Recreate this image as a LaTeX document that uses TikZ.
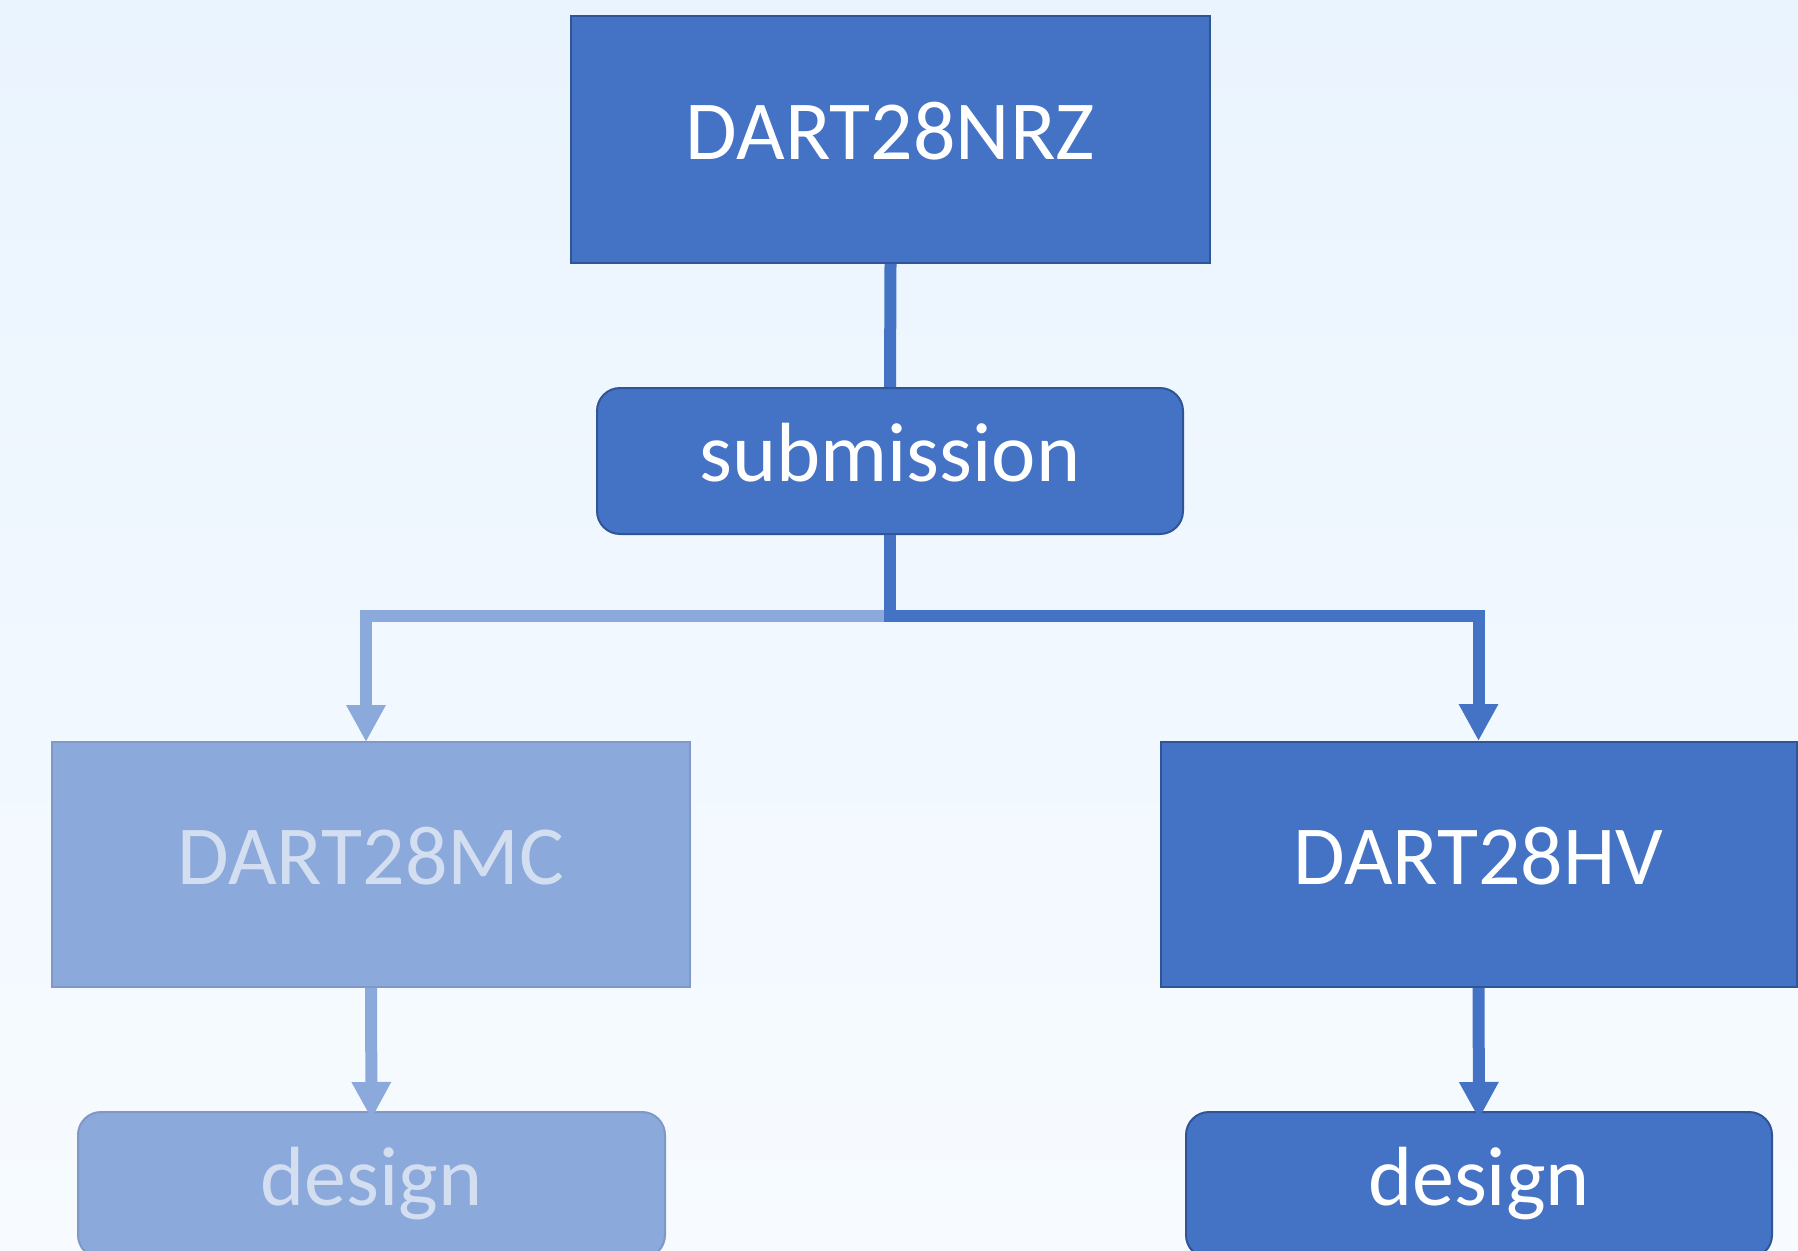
\documentclass[tikz,border=0pt]{standalone}
\usepackage{fontspec}
\setmainfont{Carlito}
\usetikzlibrary{arrows.meta}
\definecolor{bgtop}{HTML}{EAF4FE}
\definecolor{bgbot}{HTML}{F7FBFF}
\definecolor{mainblue}{HTML}{4472C4}
\definecolor{mainedge}{HTML}{2F5597}
\definecolor{fadeblue}{HTML}{8CA9DB}
\definecolor{fadeedge}{HTML}{7F98C6}
\definecolor{fadetext}{HTML}{D3DFF1}
\begin{document}
\begin{tikzpicture}[x=1pt,y=-1pt,
  lbl/.style={font=\fontsize{84}{100}\selectfont, inner sep=0pt, text height=52pt, text depth=12pt},
  darkbox/.style={lbl, draw=mainedge, line width=2pt, fill=mainblue, text=white},
  fadebox/.style={lbl, draw=fadeedge, line width=2pt, fill=fadeblue, text=fadetext},
  rnd/.style={rounded corners=23pt},
  tip/.style={-{Triangle[width=37pt,length=37pt]}},
  darkline/.style={draw=mainblue, line width=12pt},
  fadeline/.style={draw=fadeblue, line width=12pt}]
\useasboundingbox (0,0) rectangle (1798,1250);
\shade[top color=bgtop, bottom color=bgbot] (0,0) rectangle (1798,1250);
\node[darkbox, minimum width=639pt, minimum height=247pt] (nrz) at (890.5,139.5) {DART28NRZ};
\node[darkbox, rnd, minimum width=586pt, minimum height=146pt] (sub) at (890,461) {submission};
\node[fadebox, minimum width=638pt, minimum height=245pt] (mc) at (371,864.5) {DART28MC};
\node[darkbox, minimum width=636pt, minimum height=245pt] (hv) at (1478.5,864.5) {DART28HV};
\node[fadebox, rnd, minimum width=587pt, minimum height=146pt] (dl) at (371.5,1185) {design};
\node[darkbox, rnd, minimum width=586pt, minimum height=146pt] (dr) at (1479,1185) {design};
\coordinate (junc) at (890,616);
\draw[darkline] (nrz.south) -- (sub.north);
\draw[fadeline, tip] (sub.south) -- (junc) -| (366,742);
\draw[darkline, tip] (sub.south) -- (junc) -| (hv.north);
\draw[fadeline, tip] (mc.south) -- ([yshift=-8pt]dl.north);
\draw[darkline, tip] (hv.south) -- ([yshift=-8pt]dr.north);
\end{tikzpicture}
\end{document}
